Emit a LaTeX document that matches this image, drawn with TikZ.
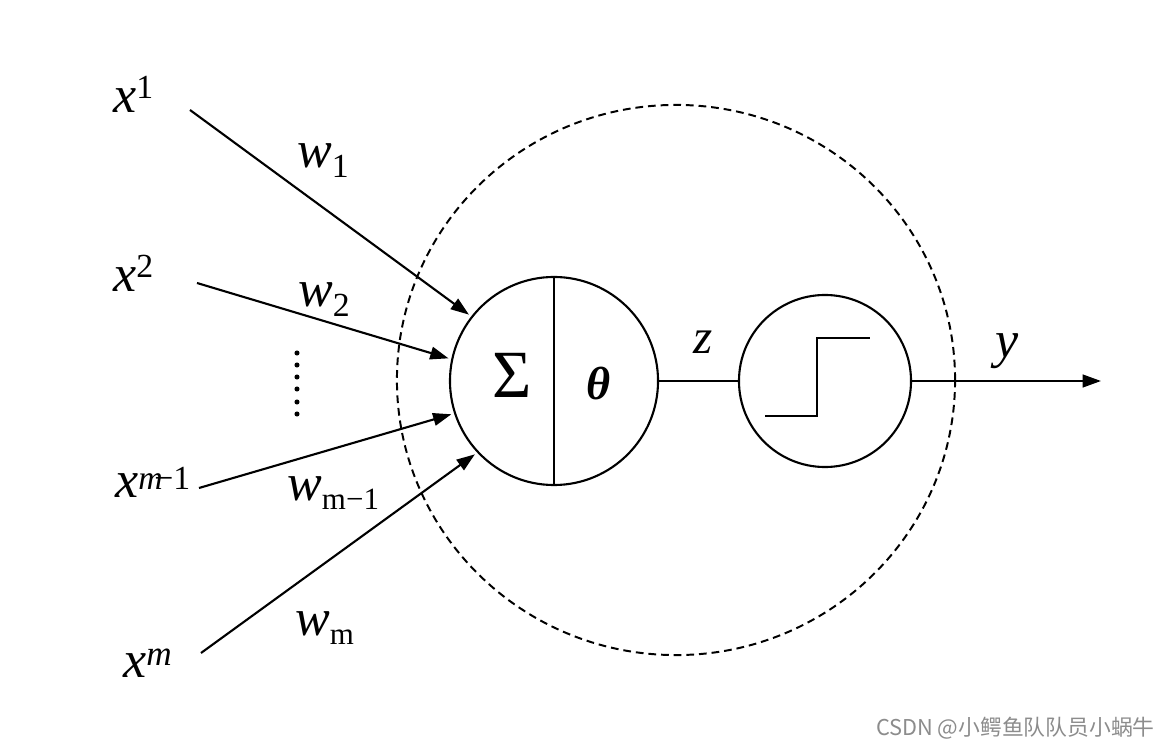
\documentclass[tikz,border=0pt]{standalone}
\usepackage{fontspec}
\setmainfont{Liberation Serif}
\newfontfamily\cjkfont{Noto Sans CJK SC}
\usetikzlibrary{arrows.meta}

\tikzset{
  lbl/.style={inner sep=0pt, anchor=base west, font=\fontsize{37}{40}\selectfont},
  unit/.style={circle, draw, line width=1.5pt, inner sep=0pt},
  wire/.style={line width=1.5pt},
  inarrow/.style={wire, -{Triangle[length=13pt,width=9pt]}, shorten >=2pt},
}
\newcommand{\supx}[3]{\textit{x}\raisebox{#3}{\fontsize{#2}{#2}\selectfont #1}}
\newcommand{\subw}[3]{\textit{w}\raisebox{#3}{\fontsize{#2}{#2}\selectfont #1}}

\begin{document}
\begin{tikzpicture}[x=0.025cm, y=-0.025cm]
\useasboundingbox (0,0) rectangle (1171,747);

% Neuron boundary
\draw[line width=1.4pt, dash pattern=on 5.5pt off 3.5pt] (676,380) ellipse [x radius=6.975cm, y radius=6.875cm];

% Summation and activation units
\node[unit, minimum size=5.2cm] (sum) at (554,381) {};
\draw[wire] (sum.north) -- (sum.south);
\node[inner sep=0pt, anchor=base, font=\fontsize{48}{48}\selectfont] (sigma) at (512,398) {Σ};
\node[inner sep=0pt, anchor=base, font=\fontsize{33}{33}\selectfont] (theta) at (599,400) {\textbf{\textit{θ}}};
\node[unit, minimum size=4.3cm] (act) at (825,381) {};
\draw[line width=1.9pt] ([shift={(-60,35)}]act.center) -- ++(52,0) -- ++(0,-78) -- ++(53,0);

% Inputs
\node[lbl] (x1) at (113,113) {\supx{1}{24}{10pt}};
\node[lbl] (x2) at (113,292) {\supx{2}{24}{10pt}};
\node[lbl] (xm1) at (115,497) {\supx{\textit{m}\kern-6pt−1}{24}{5pt}};
\node[lbl] (xm) at (123,677) {\supx{\textit{m}}{25}{8pt}};
\coordinate (s1) at (190,110);
\coordinate (s2) at (197,283);
\coordinate (s3) at (199,488);
\coordinate (s4) at (201,653);
\draw[inarrow] (s1) -- (sum.142);
\draw[inarrow] (s2) -- (sum.168);
\draw[inarrow] (s3) -- (sum.198);
\draw[inarrow] (s4) -- (sum.223);
\foreach \yy in {353,365,377,389,402,414}
  \fill (297,\yy) circle (1.8pt);

% Weights
\node[lbl] (w1) at (297,168) {\subw{1}{24}{-7pt}};
\node[lbl] (w2) at (298,307) {\subw{2}{24}{-7pt}};
\node[lbl] (wm1) at (287,500) {\subw{m−1}{22}{-7pt}};
\node[lbl] (wm) at (295,635) {\subw{m}{22}{-7pt}};

% Output
\draw[wire] (sum) -- (act);
\node[lbl, font=\fontsize{35}{35}\selectfont] (z) at (693,354) {\textit{z}};
\coordinate (out) at (1101,381);
\draw[wire, -{Triangle[length=13pt,width=9pt]}] (act) -- (out);
\node[lbl, font=\fontsize{37}{37}\selectfont] (y) at (995,358) {\textit{y}};

\node[inner sep=0pt, anchor=base east, text=black!45, font=\cjkfont\fontsize{15.5}{15.5}\selectfont] (mark) at (1155,735) {CSDN @小鳄鱼队队员小蜗牛};

\end{tikzpicture}
\end{document}
